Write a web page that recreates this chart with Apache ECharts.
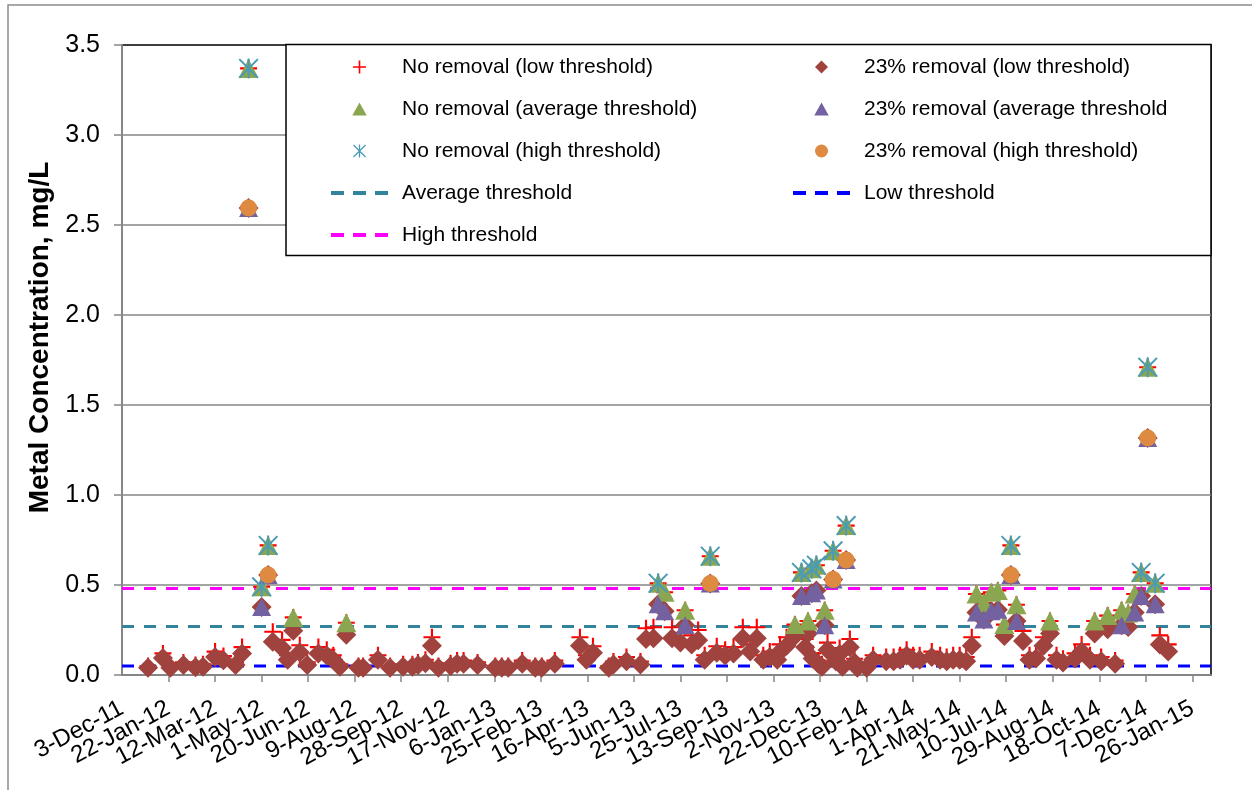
<!DOCTYPE html>
<html>
<head>
<meta charset="utf-8">
<title>Metal Concentration</title>
<script src="https://cdn.jsdelivr.net/npm/echarts@6/dist/echarts.min.js"></script>
<style>
  html, body { margin: 0; padding: 0; background: #fff; }
  #chart { width: 1252px; height: 790px; }
</style>
</head>
<body>
<div id="chart"></div>
<script>
// x axis: days counted from the first tick date
var START_DATE = '2011-12-03';
var X_MAX_DAYS = 1170;
var X_STEP_DAYS = 50;
var xTickLabels = ['3-Dec-11', '22-Jan-12', '12-Mar-12', '1-May-12', '20-Jun-12', '9-Aug-12',
  '28-Sep-12', '17-Nov-12', '6-Jan-13', '25-Feb-13', '16-Apr-13', '5-Jun-13', '25-Jul-13',
  '13-Sep-13', '2-Nov-13', '22-Dec-13', '10-Feb-14', '1-Apr-14', '21-May-14', '10-Jul-14',
  '29-Aug-14', '18-Oct-14', '7-Dec-14', '26-Jan-15'];

var LOW_THRESHOLD = 0.05;
var AVERAGE_THRESHOLD = 0.27;
var HIGH_THRESHOLD = 0.48;

var sampleDates = [
  '2011-12-31', '2012-01-16', '2012-01-24', '2012-02-07', '2012-02-20', '2012-02-28',
  '2012-03-12', '2012-03-21', '2012-04-03', '2012-04-10', '2012-04-17', '2012-05-01',
  '2012-05-08', '2012-05-13', '2012-05-23', '2012-05-29', '2012-06-04', '2012-06-11',
  '2012-06-19', '2012-07-01', '2012-07-10', '2012-07-17', '2012-07-24', '2012-07-31',
  '2012-08-13', '2012-08-18', '2012-09-03', '2012-09-16', '2012-09-30', '2012-10-10',
  '2012-10-16', '2012-10-24', '2012-10-31', '2012-11-07', '2012-11-20', '2012-11-27',
  '2012-12-04', '2012-12-19', '2013-01-07', '2013-01-14', '2013-01-21', '2013-02-05',
  '2013-02-19', '2013-02-26', '2013-03-12', '2013-04-08', '2013-04-15', '2013-04-22',
  '2013-05-09', '2013-05-14', '2013-05-28', '2013-06-12', '2013-06-18', '2013-06-26',
  '2013-07-01', '2013-07-08', '2013-07-16', '2013-07-25', '2013-07-30', '2013-08-06',
  '2013-08-13', '2013-08-20', '2013-08-26', '2013-09-02', '2013-09-11', '2013-09-20',
  '2013-09-30', '2013-10-08', '2013-10-15', '2013-10-22', '2013-10-29', '2013-11-06',
  '2013-11-09', '2013-11-16', '2013-11-25', '2013-12-02', '2013-12-06', '2013-12-09',
  '2013-12-13', '2013-12-14', '2013-12-18', '2013-12-20', '2013-12-24', '2013-12-27',
  '2013-12-30', '2014-01-05', '2014-01-08', '2014-01-12', '2014-01-15', '2014-01-19',
  '2014-01-23', '2014-01-28', '2014-01-31', '2014-02-10', '2014-02-17', '2014-03-03',
  '2014-03-11', '2014-03-18', '2014-03-25', '2014-04-01', '2014-04-08', '2014-04-21',
  '2014-04-30', '2014-05-07', '2014-05-14', '2014-05-21', '2014-05-28', '2014-06-03',
  '2014-06-08', '2014-06-16', '2014-06-24', '2014-07-01', '2014-07-08', '2014-07-15',
  '2014-07-21', '2014-07-28', '2014-08-04', '2014-08-11', '2014-08-19', '2014-08-26',
  '2014-09-02', '2014-09-09', '2014-09-22', '2014-09-29', '2014-10-08', '2014-10-13',
  '2014-10-20', '2014-10-27', '2014-11-04', '2014-11-11', '2014-11-18', '2014-11-25',
  '2014-12-02', '2014-12-09', '2014-12-17', '2014-12-22', '2014-12-31'
];

// mg/L, no removal
var noRemoval = [
  0.05, 0.12, 0.05, 0.07, 0.055, 0.06,
  0.13, 0.105, 0.07, 0.155, 3.37, 0.49,
  0.72, 0.24, 0.195, 0.11, 0.32, 0.165,
  0.07, 0.155, 0.14, 0.11, 0.06, 0.29,
  0.05, 0.05, 0.11, 0.05, 0.06, 0.06,
  0.07, 0.085, 0.21, 0.05, 0.065, 0.08,
  0.08, 0.07, 0.05, 0.05, 0.05, 0.08,
  0.05, 0.05, 0.08, 0.21, 0.11, 0.16,
  0.05, 0.075, 0.10, 0.075, 0.26, 0.265,
  0.51, 0.46, 0.265, 0.235, 0.36, 0.22,
  0.25, 0.11, 0.66, 0.16, 0.14, 0.155,
  0.265, 0.17, 0.265, 0.11, 0.13, 0.11,
  0.17, 0.21, 0.28, 0.57, 0.20, 0.30,
  0.59, 0.12, 0.61, 0.08, 0.06, 0.36,
  0.18, 0.69, 0.10, 0.15, 0.06, 0.83,
  0.20, 0.09, 0.05, 0.05, 0.11, 0.10,
  0.10, 0.11, 0.14, 0.11, 0.11, 0.13,
  0.11, 0.10, 0.11, 0.11, 0.10, 0.21,
  0.45, 0.40, 0.46, 0.47, 0.28, 0.72,
  0.39, 0.245, 0.11, 0.12, 0.21, 0.30,
  0.11, 0.09, 0.12, 0.17, 0.11, 0.30,
  0.10, 0.33, 0.08, 0.36, 0.345, 0.45,
  0.57, 1.71, 0.51, 0.22, 0.17
];

// mg/L, 23% removal
var removal23 = [
  0.04, 0.094, 0.04, 0.055, 0.043, 0.046,
  0.10, 0.082, 0.055, 0.12, 2.595, 0.378,
  0.555, 0.185, 0.15, 0.085, 0.246, 0.127,
  0.055, 0.12, 0.108, 0.085, 0.046, 0.223,
  0.04, 0.04, 0.085, 0.04, 0.046, 0.046,
  0.055, 0.065, 0.162, 0.04, 0.05, 0.062,
  0.062, 0.055, 0.04, 0.04, 0.04, 0.062,
  0.04, 0.04, 0.062, 0.162, 0.085, 0.123,
  0.04, 0.058, 0.077, 0.058, 0.20, 0.204,
  0.393, 0.354, 0.204, 0.181, 0.277, 0.17,
  0.193, 0.085, 0.508, 0.123, 0.108, 0.12,
  0.204, 0.13, 0.204, 0.085, 0.10, 0.085,
  0.13, 0.162, 0.216, 0.439, 0.154, 0.231,
  0.454, 0.092, 0.47, 0.062, 0.046, 0.277,
  0.139, 0.531, 0.077, 0.116, 0.046, 0.639,
  0.154, 0.069, 0.04, 0.04, 0.085, 0.077,
  0.077, 0.085, 0.108, 0.085, 0.085, 0.10,
  0.085, 0.077, 0.085, 0.085, 0.077, 0.162,
  0.347, 0.308, 0.354, 0.362, 0.216, 0.555,
  0.30, 0.189, 0.085, 0.092, 0.162, 0.231,
  0.085, 0.069, 0.092, 0.13, 0.085, 0.231,
  0.077, 0.254, 0.062, 0.277, 0.266, 0.347,
  0.439, 1.317, 0.393, 0.17, 0.13
];

var FONT = 'Liberation Sans, Arial, sans-serif';
var PLUS = 'path://M0,7H16V9H0Z M7,0H9V16H7Z';
var ASTERISK = 'path://M9,0H11V20H9Z M1.4,0L20,18.6L18.6,20L0,1.4Z M18.6,0L20,1.4L1.4,20L0,18.6Z';
// legend icons as paths so they keep their shape in the legend box
var ICON_TRIANGLE = 'path://M10,0L20,18H0Z';
var ICON_DIAMOND = 'path://M10,0L20,10L10,20L0,10Z';
var ICON_CIRCLE = 'path://M10,0A10,10,0,1,1,10,20A10,10,0,1,1,10,0Z';
var ICON_DASH = 'path://M0,0H13V4H0Z M22,0H35V4H22Z M44,0H57V4H44Z';

function dayOf(s) {
  return (Date.parse(s) - Date.parse(START_DATE)) / 86400000;
}

// points above a threshold (all points when no limit given)
function pick(values, limit) {
  var out = [];
  for (var i = 0; i < values.length; i++) {
    if (limit == null || values[i] > limit) {
      out.push([dayOf(sampleDates[i]), values[i]]);
    }
  }
  return out;
}

function thresholdLine(name, value, color) {
  return {
    name: name,
    type: 'line',
    symbol: 'none',
    z: 1,
    lineStyle: { color: color, width: 3, type: [12, 10] },
    itemStyle: { color: color },
    data: [[0, value], [X_MAX_DAYS, value]]
  };
}

function dateLabel(v) {
  return xTickLabels[Math.round(v / X_STEP_DAYS)] || '';
}

var legendText = { fontFamily: FONT, fontSize: 21, color: '#000', lineHeight: 22, padding: [0, 0, 0, 9] };
var xLabelStyle = { rotate: 28, margin: 32, fontFamily: FONT, fontSize: 24, color: '#000', hideOverlap: false };

var myChart = echarts.init(document.getElementById('chart'));
var option = {
  animation: false,
  backgroundColor: '#fff',
  grid: {
    left: 122, right: 41, top: 45, bottom: 115,
    show: true, borderColor: '#000', borderWidth: 1.5
  },
  legend: [
    {
      left: 326, top: 51, orient: 'vertical', selectedMode: false, symbolKeepAspect: true,
      itemWidth: 57, itemHeight: 13, itemGap: 20, textStyle: legendText,
      data: [
        { name: 'No removal (low threshold)', icon: PLUS },
        { name: 'No removal (average threshold)', icon: ICON_TRIANGLE },
        { name: 'No removal (high threshold)', icon: ASTERISK },
        { name: 'Average threshold', icon: ICON_DASH },
        { name: 'High threshold', icon: ICON_DASH }
      ]
    },
    {
      left: 788, top: 51, orient: 'vertical', selectedMode: false, symbolKeepAspect: true,
      itemWidth: 57, itemHeight: 13, itemGap: 20, textStyle: legendText,
      data: [
        { name: '23% removal (low threshold)', icon: ICON_DIAMOND },
        { name: '23% removal (average threshold', icon: ICON_TRIANGLE },
        { name: '23% removal (high threshold)', icon: ICON_CIRCLE },
        { name: 'Low threshold', icon: ICON_DASH }
      ]
    }
  ],
  graphic: [
    {
      type: 'rect', silent: true, z: -10,
      shape: { x: 8, y: 5, width: 1400, height: 1000 },
      style: { fill: 'none', stroke: '#8c8c8c', lineWidth: 1.5 }
    },
    {
      type: 'rect', silent: true, z: 3,
      shape: { x: 286, y: 44.5, width: 925, height: 211 },
      style: { fill: '#fff', stroke: '#000', lineWidth: 1.5 }
    }
  ],
  xAxis: [
    {
      // main date axis (first label is drawn by the axis below so it is not dropped)
      type: 'value', min: 0, max: X_MAX_DAYS, interval: X_STEP_DAYS,
      axisLine: { show: true, onZero: false, lineStyle: { color: '#868686', width: 2 } },
      axisTick: { show: true, length: 7, lineStyle: { color: '#868686', width: 1.5 } },
      axisLabel: Object.assign({ showMinLabel: false, showMaxLabel: false, formatter: dateLabel }, xLabelStyle),
      splitLine: { show: false }
    },
    {
      type: 'value', min: 0, max: X_MAX_DAYS, interval: X_STEP_DAYS, position: 'bottom',
      axisLine: { show: false }, axisTick: { show: false }, splitLine: { show: false },
      axisLabel: Object.assign({
        showMinLabel: true, showMaxLabel: false,
        formatter: function (v) { return v === 0 ? xTickLabels[0] : ''; }
      }, xLabelStyle)
    }
  ],
  yAxis: {
    type: 'value', min: 0, max: 3.5, interval: 0.5,
    name: 'Metal Concentration, mg/L', nameLocation: 'middle', nameGap: 64,
    nameTextStyle: { fontFamily: FONT, fontSize: 28, fontWeight: 'bold', color: '#000', padding: [0, 0, 0, 45] },
    axisLine: { show: true, lineStyle: { color: '#868686', width: 2 } },
    axisTick: { show: true, length: 8, lineStyle: { color: '#868686', width: 1.5 } },
    axisLabel: {
      margin: 22, fontFamily: FONT, fontSize: 25, color: '#000',
      formatter: function (v) { return v.toFixed(1); }
    },
    splitLine: { show: true, showMaxLine: false, lineStyle: { color: '#868686', width: 1.5 } }
  },
  series: [
    {
      name: 'No removal (low threshold)', type: 'scatter',
      symbol: PLUS, symbolSize: 17, itemStyle: { color: '#ff0000', opacity: 1 },
      data: pick(noRemoval)
    },
    {
      name: '23% removal (low threshold)', type: 'scatter',
      symbol: 'diamond', symbolSize: 20, itemStyle: { color: '#a0433f', opacity: 1 },
      data: pick(removal23)
    },
    {
      name: 'No removal (average threshold)', type: 'scatter',
      symbol: 'triangle', symbolSize: [20, 19], itemStyle: { color: '#8ba650', opacity: 1 },
      data: pick(noRemoval, AVERAGE_THRESHOLD)
    },
    {
      name: '23% removal (average threshold', type: 'scatter',
      symbol: 'triangle', symbolSize: [19, 18], itemStyle: { color: '#7461a0', opacity: 1 },
      data: pick(removal23, AVERAGE_THRESHOLD)
    },
    {
      name: 'No removal (high threshold)', type: 'scatter',
      symbol: ASTERISK, symbolSize: 20, itemStyle: { color: '#4a9bb6', opacity: 1 },
      data: pick(noRemoval, HIGH_THRESHOLD)
    },
    {
      name: '23% removal (high threshold)', type: 'scatter',
      symbol: 'circle', symbolSize: 17, itemStyle: { color: '#de8a40', opacity: 1 },
      data: pick(removal23, HIGH_THRESHOLD)
    },
    thresholdLine('Average threshold', AVERAGE_THRESHOLD, '#31849b'),
    thresholdLine('Low threshold', LOW_THRESHOLD, '#0000ff'),
    thresholdLine('High threshold', HIGH_THRESHOLD, '#ff00ff')
  ]
};
myChart.setOption(option);
</script>
</body>
</html>
